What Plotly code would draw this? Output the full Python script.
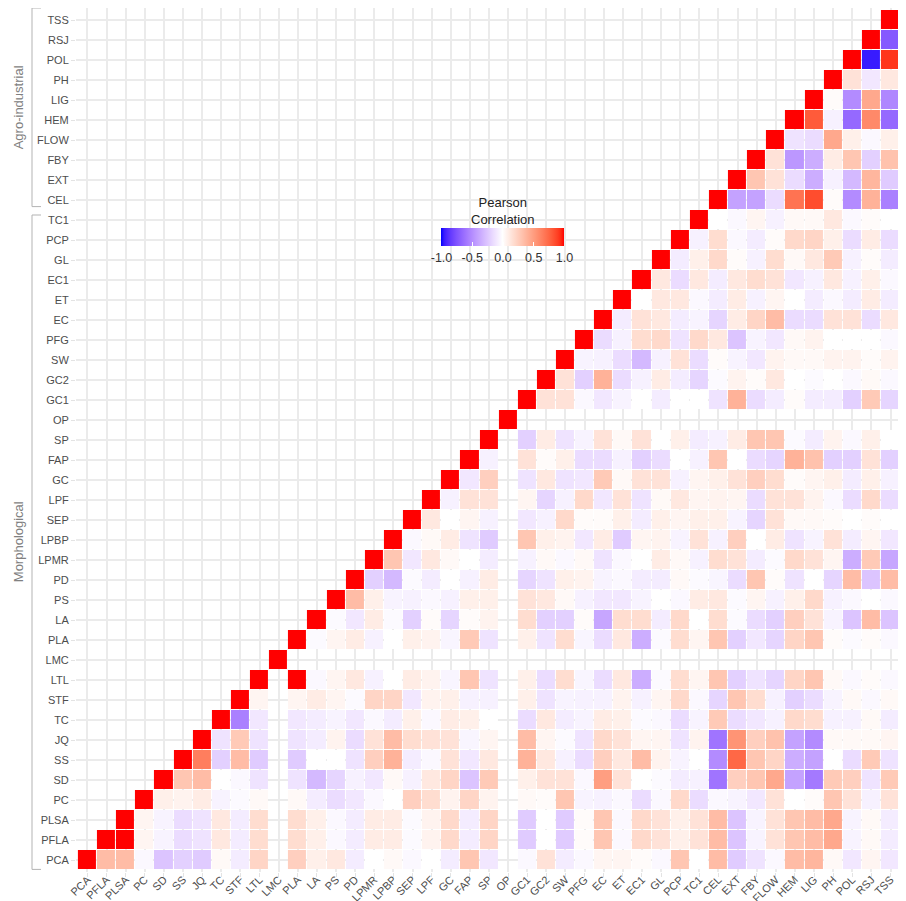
import plotly.graph_objects as go

# ---------------- data ----------------
variables = ["PCA", "PFLA", "PLSA", "PC", "SD", "SS", "JQ", "TC", "STF", "LTL",
             "LMC", "PLA", "LA", "PS", "PD", "LPMR", "LPBP", "SEP", "LPF", "GC",
             "FAP", "SP", "OP", "GC1", "GC2", "SW", "PFG", "EC", "ET", "EC1",
             "GL", "PCP", "TC1", "CEL", "EXT", "FBY", "FLOW", "HEM", "LIG", "PH",
             "POL", "RSJ", "TSS"]
morphological = ["PCA", "PFLA", "PLSA", "PC", "SD", "SS", "JQ", "TC", "STF", "LTL",
                 "LMC", "PLA", "LA", "PS", "PD", "LPMR", "LPBP", "SEP", "LPF", "GC",
                 "FAP", "SP", "OP", "GC1", "GC2", "SW", "PFG", "EC", "ET", "EC1",
                 "GL", "PCP", "TC1"]
agro_industrial = ["CEL", "EXT", "FBY", "FLOW", "HEM", "LIG", "PH", "POL", "RSJ", "TSS"]
colorbar_ticks = [-1.0, -0.5, 0.0, 0.5, 1.0]
colorbar_ticktext = ["-1.0", "-0.5", "0.0", "0.5", "1.0"]
N = None  # not available

# each row: correlations of the row variable with itself and every later column
r_PCA = [1, 0.35, 0.35, -0.03, -0.25, -0.2, -0.22, 0.03, -0.08, 0.22,
         N, 0.25, 0.08, 0.12, -0.08, 0.0, 0.03, -0.03, 0.0, -0.08,
         0.3, -0.1, N, -0.03, 0.15, -0.08, -0.03, 0.05, 0.05, 0.02,
         -0.03, 0.3, 0.0, 0.35, -0.22, -0.12, -0.03, 0.35, 0.38, 0.03,
         -0.1, 0.05, -0.1]
r_PFLA = [1, 1, 0.05, -0.05, -0.15, -0.12, 0.12, -0.08, 0.18,
          N, 0.18, 0.08, -0.03, -0.08, 0.1, 0.1, -0.02, 0.06, 0.2,
          -0.08, 0.22, N, -0.22, 0.0, -0.22, 0.02, 0.3, -0.03, 0.2,
          0.15, 0.08, 0.15, 0.35, -0.25, -0.05, 0.15, 0.3, 0.35, 0.45,
          -0.05, 0.03, -0.08]
r_PLSA = [1, 0.05, -0.05, -0.15, -0.12, 0.12, -0.08, 0.18,
          N, 0.18, 0.08, -0.03, -0.08, 0.1, 0.1, -0.02, 0.06, 0.2,
          -0.08, 0.22, N, -0.22, 0.0, -0.22, 0.02, 0.3, -0.03, 0.2,
          0.15, 0.08, 0.15, 0.35, -0.25, -0.05, 0.15, 0.3, 0.35, 0.45,
          -0.05, 0.03, -0.08]
r_PC = [1, 0.08, 0.06, 0.1, -0.05, -0.02, 0.03,
        N, 0.03, -0.08, -0.15, -0.1, -0.03, 0.0, 0.25, 0.18, 0.06,
        0.22, 0.06, N, 0.03, 0.02, 0.3, -0.05, -0.06, -0.03, -0.15,
        -0.03, 0.2, -0.15, -0.03, -0.05, -0.1, 0.15, 0.0, 0.02, 0.3,
        0.15, -0.06, 0.15]
r_SD = [1, 0.3, 0.35, 0.0, -0.03, -0.12,
        N, -0.12, -0.3, -0.18, -0.06, -0.1, 0.03, -0.06, 0.12, 0.22,
        -0.25, 0.28, N, 0.08, 0.15, 0.15, -0.03, 0.5, 0.15, 0.0,
        -0.02, -0.08, -0.06, -0.6, 0.25, 0.3, 0.45, -0.4, -0.58, 0.28,
        0.25, -0.12, 0.28]
r_SS = [1, 0.65, -0.2, 0.35, -0.22,
        N, -0.22, 0.0, 0.0, -0.12, 0.25, 0.4, -0.08, -0.03, 0.15,
        -0.1, 0.12, N, 0.4, 0.12, -0.06, -0.15, 0.25, 0.12, 0.35,
        0.06, -0.05, 0.0, -0.5, 0.75, 0.3, 0.22, -0.35, -0.4, 0.0,
        -0.15, 0.28, -0.12]
r_JQ = [1, -0.12, 0.28, -0.12,
        N, -0.12, -0.08, 0.06, -0.15, 0.15, 0.35, 0.18, 0.15, 0.15,
        -0.04, 0.05, N, 0.35, 0.05, -0.02, -0.12, 0.2, 0.15, 0.05,
        0.05, -0.12, 0.06, -0.6, 0.55, 0.25, 0.32, -0.4, -0.5, 0.03,
        0.03, 0.03, 0.05]
r_TC = [1, -0.55, -0.1,
        N, -0.1, -0.08, -0.05, -0.1, -0.03, -0.08, 0.08, -0.03, 0.1,
        0.08, 0.0, N, -0.15, 0.12, -0.08, -0.05, 0.1, 0.08, -0.02,
        -0.03, -0.15, -0.05, 0.28, -0.15, -0.1, -0.06, 0.2, 0.18, -0.06,
        -0.06, 0.03, -0.08]
r_STF = [1, 0.05,
         N, 0.05, 0.1, 0.05, -0.02, 0.22, 0.22, -0.1, 0.06, 0.08,
         -0.06, -0.06, N, 0.08, -0.12, -0.05, -0.06, -0.06, 0.06, -0.06,
         0.05, 0.2, -0.03, -0.18, 0.3, 0.18, -0.06, -0.2, -0.15, -0.05,
         0.03, -0.03, 0.03]
r_LTL = [1,
         N, 1, -0.03, 0.05, 0.12, -0.06, 0.0, 0.1, 0.06, -0.04,
         0.3, -0.12, N, 0.08, -0.15, 0.18, -0.04, -0.15, 0.12, -0.35,
         -0.02, 0.18, 0.05, 0.3, -0.2, -0.12, -0.18, 0.22, 0.3, 0.03,
         -0.03, 0.02, -0.03]
r_LMC = [1, N, N, N, N, N, N, N, N, N, N, N, N, N, N, N, N,
         N, N, N, N, N, N, N, N, N, N, N, N, N, N, N, N]
r_PLA = [1, -0.02, 0.05, 0.1, -0.06, 0.0, 0.08, 0.06, -0.04,
         0.28, -0.12, N, 0.08, -0.12, 0.18, -0.04, -0.15, 0.12, -0.35,
         -0.02, 0.18, 0.05, 0.3, -0.2, -0.1, -0.18, 0.22, 0.3, 0.02,
         -0.02, 0.02, -0.03]
r_LA = [1, -0.02, -0.1, 0.1, -0.02, -0.2, 0.02, -0.18,
        0.02, 0.06, N, 0.18, -0.2, -0.2, 0.02, -0.38, 0.18, 0.18,
        -0.08, 0.2, 0.0, 0.18, -0.02, -0.15, -0.2, 0.25, 0.15, -0.05,
        -0.25, 0.35, -0.25]
r_PS = [1, 0.35, 0.08, -0.05, -0.06, -0.03, -0.06,
        0.08, 0.08, N, 0.15, 0.12, 0.03, -0.06, -0.1, -0.1, -0.05,
        0.0, -0.03, 0.1, 0.12, -0.02, 0.05, -0.06, 0.08, 0.2, -0.06,
        -0.03, 0.0, -0.03]
r_PD = [1, -0.2, -0.3, -0.02, -0.08, 0.0,
        -0.06, 0.1, N, -0.18, -0.12, 0.08, 0.06, -0.05, -0.03, -0.08,
        -0.08, 0.03, -0.02, -0.04, -0.15, 0.3, 0.02, -0.12, 0.0, -0.18,
        0.35, -0.25, 0.35]
r_LPMR = [1, 0.3, -0.1, 0.12, 0.03,
          0.0, -0.08, N, -0.06, 0.03, -0.03, 0.03, -0.12, -0.03, 0.0,
          0.1, 0.03, -0.06, 0.18, 0.15, -0.08, -0.02, 0.2, 0.15, 0.05,
          -0.35, 0.28, -0.38]
r_LPBP = [1, -0.03, 0.03, 0.1,
          -0.12, -0.22, N, 0.3, 0.08, 0.06, -0.1, 0.1, -0.22, 0.05,
          0.06, -0.05, 0.15, -0.06, 0.25, 0.0, 0.1, -0.12, -0.05, 0.15,
          -0.08, 0.05, -0.1]
r_SEP = [1, 0.12, 0.0,
         0.05, -0.06, N, -0.1, -0.06, 0.2, 0.02, 0.02, 0.08, -0.08,
         0.08, 0.05, 0.08, 0.08, -0.05, -0.18, 0.15, 0.03, 0.03, 0.02,
         0.0, 0.02, 0.0]
r_LPF = [1, -0.06,
         0.15, 0.15, N, 0.05, -0.18, -0.06, 0.2, -0.1, 0.15, -0.12,
         0.03, 0.12, 0.05, 0.06, 0.05, -0.15, 0.15, 0.15, 0.06, -0.03,
         -0.15, 0.2, -0.15]
r_GC = [1,
        -0.1, 0.25, N, -0.12, 0.12, -0.12, -0.1, 0.28, 0.03, 0.15,
        0.15, -0.06, 0.05, 0.08, 0.15, 0.25, 0.18, 0.02, 0.05, 0.08,
        -0.08, 0.08, -0.06]
r_FAP = [1, -0.06, N, 0.15, 0.02, 0.08, -0.15, -0.15, -0.06, -0.2,
         -0.15, 0.0, -0.06, 0.3, 0.0, -0.15, -0.18, 0.4, 0.32, -0.2,
         -0.2, 0.15, -0.2]
r_SP = [1, N, -0.2, 0.1, -0.12, -0.05, 0.15, 0.03, 0.15,
        0.0, 0.08, -0.08, -0.06, 0.1, 0.3, 0.3, -0.02, -0.08, 0.06,
        -0.03, 0.08, 0.0]
r_OP = [1, N, N, N, N, N, N, N, N, N, N, N, N, N, N, N, N, N, N, N, N]
r_GC1 = [1, 0.15, 0.15, -0.03, -0.1, -0.05, 0.0,
         -0.08, 0.0, 0.0, -0.12, 0.4, -0.15, -0.08, 0.02, -0.08, -0.08,
         -0.2, 0.28, -0.18]
r_GC2 = [1, 0.15, -0.2, 0.4, -0.15, -0.06,
         0.1, -0.08, -0.18, -0.02, 0.06, 0.02, 0.12, 0.0, -0.02, 0.0,
         -0.03, 0.03, -0.03]
r_SW = [1, -0.05, -0.06, -0.15, -0.3,
        -0.06, 0.15, -0.15, 0.02, -0.05, -0.1, 0.06, 0.03, 0.03, 0.06,
        0.06, 0.02, 0.06]
r_PFG = [1, -0.15, -0.06, 0.18,
         0.2, -0.12, 0.2, 0.12, -0.25, -0.05, -0.1, 0.03, 0.06, 0.0,
         0.0, 0.0, -0.03]
r_EC = [1, -0.08, 0.15,
        0.12, -0.08, -0.05, -0.18, 0.1, 0.22, 0.35, -0.15, -0.15, 0.15,
        0.15, -0.15, 0.12]
r_ET = [1, 0.0,
        0.12, 0.12, -0.03, -0.08, 0.1, -0.06, 0.05, 0.0, -0.08, -0.03,
        -0.08, 0.1, -0.08]
r_EC1 = [1, 0.12, -0.15, 0.12, -0.08, 0.12, 0.18, 0.15, -0.1, -0.06, 0.12,
         -0.06, 0.08, -0.03]
r_GL = [1, -0.08, 0.08, 0.2, 0.02, -0.06, 0.18, 0.03, 0.12, 0.28,
        -0.06, 0.02, -0.08]
r_PCP = [1, -0.06, 0.18, -0.03, -0.08, 0.02, 0.2, 0.22, 0.08,
         -0.15, 0.1, -0.15]
r_TC1 = [1, 0.0, -0.03, 0.05, -0.06, 0.03, 0.03, 0.12, -0.03, 0.02, 0.0]
r_CEL = [1, -0.4, -0.4, -0.15, 0.7, 0.85, 0.02, -0.5, 0.4, -0.55]
r_EXT = [1, 0.3, 0.15, -0.15, -0.35, -0.06, -0.3, 0.38, -0.22]
r_FBY = [1, 0.15, -0.45, -0.35, 0.1, 0.3, -0.2, 0.32]
r_FLOW = [1, -0.12, -0.15, 0.45, 0.08, -0.03, 0.08]
r_HEM = [1, 0.8, -0.06, -0.65, 0.6, -0.65]
r_LIG = [1, 0.02, -0.5, 0.45, -0.52]
r_PH = [1, 0.15, -0.1, 0.12]
r_POL = [1, -0.95, 0.92]
r_RSJ = [1, -0.72]
r_TSS = [1]

rows = [r_PCA, r_PFLA, r_PLSA, r_PC, r_SD, r_SS, r_JQ, r_TC, r_STF, r_LTL,
        r_LMC, r_PLA, r_LA, r_PS, r_PD, r_LPMR, r_LPBP, r_SEP, r_LPF, r_GC,
        r_FAP, r_SP, r_OP, r_GC1, r_GC2, r_SW, r_PFG, r_EC, r_ET, r_EC1,
        r_GL, r_PCP, r_TC1, r_CEL, r_EXT, r_FBY, r_FLOW, r_HEM, r_LIG, r_PH,
        r_POL, r_RSJ, r_TSS]

n = len(variables)
z = [[None] * n for _ in range(n)]
for i, row in enumerate(rows):
    for k, v in enumerate(row):
        if i + k < n:
            z[i][i + k] = v

# ---------------- colour scale (Lab interpolation blue-white-red) ----------------
def _lin(c):
    c = c / 255.0
    return c / 12.92 if c <= 0.04045 else ((c + 0.055) / 1.055) ** 2.4

def _f(t):
    d = 6 / 29
    return t ** (1 / 3) if t > d ** 3 else t / (3 * d * d) + 4 / 29

def _finv(t):
    d = 6 / 29
    return t ** 3 if t > d else 3 * d * d * (t - 4 / 29)

def rgb2lab(rgb):
    r, g, b = [_lin(c) for c in rgb]
    X = 0.4124 * r + 0.3576 * g + 0.1805 * b
    Y = 0.2126 * r + 0.7152 * g + 0.0722 * b
    Z = 0.0193 * r + 0.1192 * g + 0.9505 * b
    fx, fy, fz = _f(X / 0.95047), _f(Y), _f(Z / 1.08883)
    return (116 * fy - 16, 500 * (fx - fy), 200 * (fy - fz))

def lab2rgb(lab):
    L, a, b = lab
    fy = (L + 16) / 116
    fx = fy + a / 500
    fz = fy - b / 200
    X, Y, Z = 0.95047 * _finv(fx), _finv(fy), 1.08883 * _finv(fz)
    r = 3.2406 * X - 1.5372 * Y - 0.4986 * Z
    g = -0.9689 * X + 1.8758 * Y + 0.0415 * Z
    bb = 0.0557 * X - 0.2040 * Y + 1.0570 * Z
    out = []
    for c in (r, g, bb):
        c = 12.92 * c if c <= 0.0031308 else 1.055 * max(c, 0) ** (1 / 2.4) - 0.055
        out.append(int(round(min(max(c, 0), 1) * 255)))
    return "rgb(%d,%d,%d)" % tuple(out)

lab_low, lab_mid, lab_high = rgb2lab((0, 0, 255)), rgb2lab((255, 255, 255)), rgb2lab((255, 0, 0))
colorscale = []
steps = 40
for s in range(steps + 1):
    t = s / steps
    v = -1 + 2 * t
    if v < 0:
        f = -v
        lab = tuple(lab_mid[j] + (lab_low[j] - lab_mid[j]) * f for j in range(3))
    else:
        f = v
        lab = tuple(lab_mid[j] + (lab_high[j] - lab_mid[j]) * f for j in range(3))
    colorscale.append([t, lab2rgb(lab)])

# ---------------- layout geometry ----------------
# the page body has an 8px margin, so the figure is drawn at page offset (8, 8)
OFF = 8
W, H = 898, 893
ML, MR, MT, MB = 68, 4, 0, 29
PW, PH = W - ML - MR, H - MT - MB

def px_x(px):  # page pixel -> paper x
    return (px - OFF - ML) / PW

def px_y(py):  # page pixel -> paper y
    return (H - MB - (py - OFF)) / PH

FONT = "Liberation Sans, Arial, sans-serif"

fig = go.Figure(go.Heatmap(
    x=variables, y=variables, z=z,
    zmin=-1, zmax=1, colorscale=colorscale,
    xgap=1, ygap=1, hoverongaps=False,
    colorbar=dict(
        orientation="h", x=px_x(503), xanchor="center",
        y=px_y(227.5), yanchor="top", ypad=0, xpad=0,
        len=123, lenmode="pixels", thickness=18, thicknessmode="pixels",
        outlinewidth=0, tickvals=colorbar_ticks, ticktext=colorbar_ticktext,
        ticks="inside", ticklen=4, tickcolor="white",
        tickfont=dict(size=12.5, color="#333333", family=FONT),
    ),
))

axis_common = dict(
    type="category", categoryorder="array", categoryarray=variables,
    range=[-0.6, n - 0.4], showgrid=True, gridcolor="#EBEBEB", gridwidth=1.5,
    zeroline=False, showline=False, ticks="outside", ticklen=4,
    tickcolor="#E3E3E3", tickwidth=1.2, automargin=False,
    tickfont=dict(size=11, color="#4D4D4D", family=FONT),
)
fig.update_xaxes(**axis_common, tickangle=-45, ticklabelstandoff=-8)
fig.update_yaxes(**axis_common)

# group brackets and labels on the left
idx = {v: i for i, v in enumerate(variables)}
groups = [("Agro-industrial", idx[agro_industrial[0]] - 0.33, idx[agro_industrial[-1]] + 0.6),
          ("Morphological", idx[morphological[0]] - 0.47, idx[morphological[-1]] + 0.25)]
shapes = []
annotations = []
bx, bt = px_x(32), px_x(41)
for name, y0, y1 in groups:
    line = dict(color="#B3B3B3", width=1)
    shapes.append(dict(type="line", xref="paper", yref="y", x0=bx, x1=bx, y0=y0, y1=y1, line=line))
    shapes.append(dict(type="line", xref="paper", yref="y", x0=bx, x1=bt, y0=y0, y1=y0, line=line))
    shapes.append(dict(type="line", xref="paper", yref="y", x0=bx, x1=bt, y0=y1, y1=y1, line=line))
    annotations.append(dict(text=name, xref="paper", yref="y", x=px_x(18), y=(y0 + y1) / 2,
                            textangle=-90, showarrow=False, xanchor="center", yanchor="middle",
                            font=dict(size=13, color="#808080", family=FONT)))

annotations.append(dict(text="Pearson<br>Correlation", xref="paper", yref="paper",
                        x=px_x(503), y=px_y(210.5), showarrow=False,
                        xanchor="center", yanchor="middle",
                        font=dict(size=13, color="#222222", family=FONT)))

fig.update_layout(
    width=W, height=H,
    margin=dict(l=ML, r=MR, t=MT, b=MB, autoexpand=False),
    plot_bgcolor="white", paper_bgcolor="white",
    shapes=shapes, annotations=annotations,
    font=dict(family=FONT),
    showlegend=False,
)

fig.write_html("out.html")
